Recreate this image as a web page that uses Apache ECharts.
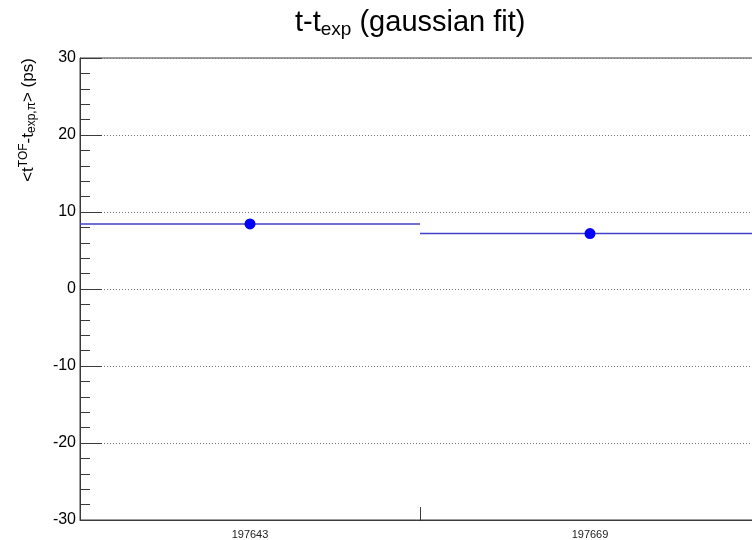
<!DOCTYPE html>
<html>
<head>
<meta charset="utf-8">
<script src="https://cdn.jsdelivr.net/npm/echarts@6/dist/echarts.min.js"></script>
<style>html,body{margin:0;padding:0;background:#fff}#c{width:752px;height:540px}</style>
</head>
<body>
<div id="c"></div>
<script>
// ---- data ----
const runs = ['197643', '197669'];
const meanValues = [8.45, 7.2];
const yTicks = [-30, -20, -10, 0, 10, 20, 30];

const FONT = '"Liberation Sans", Arial, Helvetica, sans-serif';
const AX = '#3a3a3a';

const points = runs.map((r, i) => [i + 0.5, meanValues[i]]);
const bins = runs.map((r, i) => [i, i + 1, meanValues[i]]);

const chart = echarts.init(document.getElementById('c'), null, {renderer: 'canvas'});
chart.setOption({
  animation: false,
  backgroundColor: '#fff',
  title: {
    text: '{m|t-t}{s|exp}{m| (gaussian fit)}',
    left: 295, top: 6, padding: 0,
    textStyle: {
      fontWeight: 'normal',
      rich: {
        m: {fontFamily: FONT, fontSize: 29, fontWeight: 'normal', lineHeight: 33, color: '#000'},
        s: {fontFamily: FONT, fontSize: 19, fontWeight: 'normal', lineHeight: 22, verticalAlign: 'bottom', color: '#000'}
      }
    }
  },
  graphic: [{
    type: 'text',
    x: 28, y: 120,
    rotation: Math.PI / 2,
    style: {
      text: '{m|<t}{sup|TOF}{m|-t}{sub|exp,π}{m|> (ps)}',
      align: 'center', verticalAlign: 'middle',
      rich: {
        m: {fontFamily: FONT, fontSize: 17, lineHeight: 20, fill: '#000'},
        sup: {fontFamily: FONT, fontSize: 12, lineHeight: 12, verticalAlign: 'top', fill: '#000'},
        sub: {fontFamily: FONT, fontSize: 12, lineHeight: 10, verticalAlign: 'bottom', fill: '#000'}
      }
    }
  }],
  grid: {
    left: 80, top: 58, bottom: 20, right: -8,
    outerBoundsMode: 'none', containLabel: false,
    show: true, borderColor: AX, borderWidth: 1, backgroundColor: 'transparent'
  },
  xAxis: [{
    type: 'value', min: 0, max: runs.length, interval: 0.5,
    axisLine: {show: true, onZero: false, lineStyle: {color: AX, width: 1}},
    axisTick: {show: false},
    splitLine: {show: false},
    axisLabel: {
      fontFamily: FONT, fontSize: 11, color: '#222', margin: 9,
      formatter: v => {
        const i = Math.floor(v);
        return (Math.abs(v - i - 0.5) < 1e-6 && runs[i]) ? runs[i] : '';
      }
    }
  }, {
    type: 'value', min: 0, max: runs.length, interval: 1, position: 'bottom',
    axisLine: {show: false, onZero: false},
    axisTick: {show: true, inside: true, length: 13, lineStyle: {color: AX, width: 1}},
    axisLabel: {show: false},
    splitLine: {show: false}
  }],
  yAxis: {
    type: 'value', min: yTicks[0], max: yTicks[yTicks.length - 1], interval: 10,
    axisLine: {show: true, onZero: false, lineStyle: {color: AX, width: 1}},
    axisTick: {show: true, inside: true, length: 22, lineStyle: {color: AX, width: 1}},
    minorTick: {show: true, splitNumber: 5, length: 10, lineStyle: {color: AX, width: 1}},
    splitLine: {show: true, lineStyle: {color: '#777', width: 1, type: [1, 2]}},
    axisLabel: {fontFamily: FONT, fontSize: 16, color: '#000', margin: 4}
  },
  series: [{
    type: 'custom',
    xAxisIndex: 0, yAxisIndex: 0,
    data: bins,
    renderItem: (params, api) => {
      const a = api.coord([api.value(0), api.value(2)]);
      const b = api.coord([api.value(1), api.value(2)]);
      return {
        type: 'line',
        shape: {x1: a[0], y1: a[1], x2: b[0], y2: b[1]},
        style: {stroke: '#4040c8', lineWidth: 1.5}
      };
    },
    z: 2
  }, {
    type: 'scatter',
    xAxisIndex: 0, yAxisIndex: 0,
    data: points,
    symbol: 'circle', symbolSize: 11,
    itemStyle: {color: '#0000ff', opacity: 1},
    z: 3
  }]
});
</script>
</body>
</html>
